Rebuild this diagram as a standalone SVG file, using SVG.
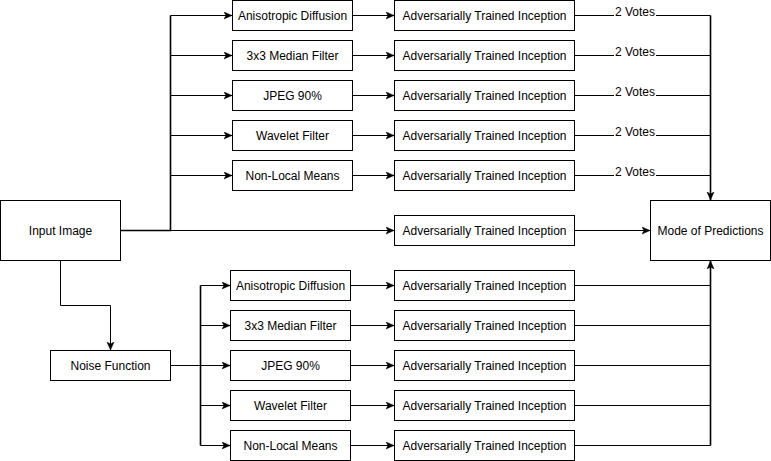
<svg xmlns="http://www.w3.org/2000/svg" width="771" height="461" viewBox="0 0 771 461">
<style>
.box{fill:#fff;stroke:#000;stroke-width:1}
.t{font-family:"Liberation Sans",Arial,sans-serif;font-size:12px;fill:#000;text-anchor:middle;dominant-baseline:central}
.e{fill:none;stroke:#000;stroke-width:1}
.thick{stroke-width:1.6}
.a{marker-end:url(#arr)}
.lbl{font-family:"Liberation Sans",Arial,sans-serif;font-size:12px;fill:#000;text-anchor:middle}
</style>
<defs>
<marker id="arr" markerUnits="userSpaceOnUse" markerWidth="10" markerHeight="10" refX="8" refY="4" orient="auto">
<path d="M0,0.5 L8,4 L0,7.5 L2,4 z" fill="#000" stroke="#000" stroke-width="0.5"/>
</marker>
</defs>
<rect width="771" height="461" fill="#fff"/>
<g id="connectors">
<!-- input to top filters -->
<path class="e thick" d="M120.5,230.5 H170.5 V15.5"/>
<path class="e a" d="M170.5,15.5 H232"/>
<path class="e a" d="M170.5,55.5 H232"/>
<path class="e a" d="M170.5,95.5 H232"/>
<path class="e a" d="M170.5,135.5 H232"/>
<path class="e a" d="M170.5,175.5 H232"/>
<!-- input direct -->
<path class="e a" d="M120.5,230.5 H394"/>
<!-- top filters to inception -->
<path class="e a" d="M352.5,15.5 H394"/>
<path class="e a" d="M352.5,55.5 H394"/>
<path class="e a" d="M352.5,95.5 H394"/>
<path class="e a" d="M352.5,135.5 H394"/>
<path class="e a" d="M352.5,175.5 H394"/>
<!-- top inception to mode -->
<path class="e" d="M574.5,15.5 H710.5"/>
<path class="e" d="M574.5,55.5 H710.5"/>
<path class="e" d="M574.5,95.5 H710.5"/>
<path class="e" d="M574.5,135.5 H710.5"/>
<path class="e" d="M574.5,175.5 H710.5"/>
<path class="e thick a" d="M710.5,15.5 V200"/>
<!-- vote labels -->
<g>
<rect x="614" y="5" width="42" height="12" fill="#fff"/>
<text class="lbl" x="635" y="16">2 Votes</text>
<rect x="614" y="45" width="42" height="12" fill="#fff"/>
<text class="lbl" x="635" y="56">2 Votes</text>
<rect x="614" y="85" width="42" height="12" fill="#fff"/>
<text class="lbl" x="635" y="96">2 Votes</text>
<rect x="614" y="125" width="42" height="12" fill="#fff"/>
<text class="lbl" x="635" y="136">2 Votes</text>
<rect x="614" y="165" width="42" height="12" fill="#fff"/>
<text class="lbl" x="635" y="176">2 Votes</text>
</g>
<!-- middle inception to mode -->
<path class="e a" d="M574.5,230.5 H650"/>
<!-- input to noise -->
<path class="e a" d="M60.5,260.5 V305.5 H110.5 V350"/>
<!-- noise to bottom filters -->
<path class="e" d="M170.5,365.5 H200.5"/>
<path class="e thick" d="M200.5,285.5 V445.5"/>
<path class="e a" d="M200.5,285.5 H230"/>
<path class="e a" d="M200.5,325.5 H230"/>
<path class="e a" d="M200.5,365.5 H230"/>
<path class="e a" d="M200.5,405.5 H230"/>
<path class="e a" d="M200.5,445.5 H230"/>
<!-- bottom filters to inception -->
<path class="e a" d="M350.5,285.5 H394"/>
<path class="e a" d="M350.5,325.5 H394"/>
<path class="e a" d="M350.5,365.5 H394"/>
<path class="e a" d="M350.5,405.5 H394"/>
<path class="e a" d="M350.5,445.5 H394"/>
<!-- bottom inception to mode -->
<path class="e" d="M574.5,285.5 H710.5"/>
<path class="e" d="M574.5,325.5 H710.5"/>
<path class="e" d="M574.5,365.5 H710.5"/>
<path class="e" d="M574.5,405.5 H710.5"/>
<path class="e" d="M574.5,445.5 H710.5"/>
<path class="e thick a" d="M710.5,445.5 V261"/>
</g>
<g id="input-image"><rect class="box" x="0.5" y="200.5" width="120" height="60"/><text class="t" x="60.5" y="230.5">Input Image</text></g>
<g id="mode"><rect class="box" x="650.5" y="200.5" width="120" height="60"/><text class="t" x="710.5" y="230.5">Mode of Predictions</text></g>
<g id="noise"><rect class="box" x="50.5" y="350.5" width="120" height="30"/><text class="t" x="110.5" y="365.5">Noise Function</text></g>
<g id="top-f1"><rect class="box" x="232.5" y="0.5" width="120" height="30"/><text class="t" x="292.5" y="15.5">Anisotropic Diffusion</text></g>
<g id="top-f2"><rect class="box" x="232.5" y="40.5" width="120" height="30"/><text class="t" x="292.5" y="55.5">3x3 Median Filter</text></g>
<g id="top-f3"><rect class="box" x="232.5" y="80.5" width="120" height="30"/><text class="t" x="292.5" y="95.5">JPEG 90%</text></g>
<g id="top-f4"><rect class="box" x="232.5" y="120.5" width="120" height="30"/><text class="t" x="292.5" y="135.5">Wavelet Filter</text></g>
<g id="top-f5"><rect class="box" x="232.5" y="160.5" width="120" height="30"/><text class="t" x="292.5" y="175.5">Non-Local Means</text></g>
<g id="top-i1"><rect class="box" x="394.5" y="0.5" width="180" height="30"/><text class="t" x="484.5" y="15.5">Adversarially Trained Inception</text></g>
<g id="top-i2"><rect class="box" x="394.5" y="40.5" width="180" height="30"/><text class="t" x="484.5" y="55.5">Adversarially Trained Inception</text></g>
<g id="top-i3"><rect class="box" x="394.5" y="80.5" width="180" height="30"/><text class="t" x="484.5" y="95.5">Adversarially Trained Inception</text></g>
<g id="top-i4"><rect class="box" x="394.5" y="120.5" width="180" height="30"/><text class="t" x="484.5" y="135.5">Adversarially Trained Inception</text></g>
<g id="top-i5"><rect class="box" x="394.5" y="160.5" width="180" height="30"/><text class="t" x="484.5" y="175.5">Adversarially Trained Inception</text></g>
<g id="mid-i"><rect class="box" x="394.5" y="215.5" width="180" height="30"/><text class="t" x="484.5" y="230.5">Adversarially Trained Inception</text></g>
<g id="bot-f1"><rect class="box" x="230.5" y="270.5" width="120" height="30"/><text class="t" x="290.5" y="285.5">Anisotropic Diffusion</text></g>
<g id="bot-f2"><rect class="box" x="230.5" y="310.5" width="120" height="30"/><text class="t" x="290.5" y="325.5">3x3 Median Filter</text></g>
<g id="bot-f3"><rect class="box" x="230.5" y="350.5" width="120" height="30"/><text class="t" x="290.5" y="365.5">JPEG 90%</text></g>
<g id="bot-f4"><rect class="box" x="230.5" y="390.5" width="120" height="30"/><text class="t" x="290.5" y="405.5">Wavelet Filter</text></g>
<g id="bot-f5"><rect class="box" x="230.5" y="430.5" width="120" height="30"/><text class="t" x="290.5" y="445.5">Non-Local Means</text></g>
<g id="bot-i1"><rect class="box" x="394.5" y="270.5" width="180" height="30"/><text class="t" x="484.5" y="285.5">Adversarially Trained Inception</text></g>
<g id="bot-i2"><rect class="box" x="394.5" y="310.5" width="180" height="30"/><text class="t" x="484.5" y="325.5">Adversarially Trained Inception</text></g>
<g id="bot-i3"><rect class="box" x="394.5" y="350.5" width="180" height="30"/><text class="t" x="484.5" y="365.5">Adversarially Trained Inception</text></g>
<g id="bot-i4"><rect class="box" x="394.5" y="390.5" width="180" height="30"/><text class="t" x="484.5" y="405.5">Adversarially Trained Inception</text></g>
<g id="bot-i5"><rect class="box" x="394.5" y="430.5" width="180" height="30"/><text class="t" x="484.5" y="445.5">Adversarially Trained Inception</text></g>
</svg>
